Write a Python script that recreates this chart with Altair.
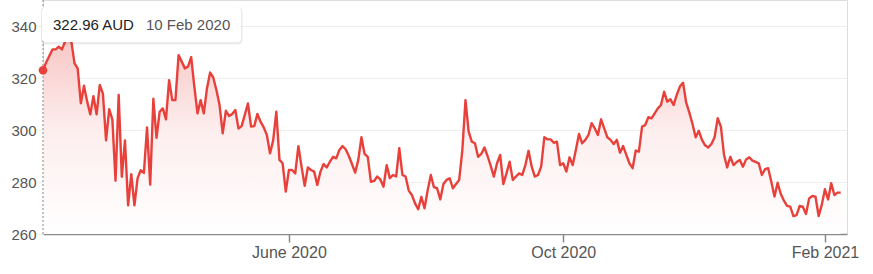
import altair as alt
import pandas as pd

# Daily closing prices (AUD), one per ASX trading day from 10 Feb 2020
prices = [
    322.96, 326.0, 328.5, 331.0, 331.0, 332.0, 331.0, 334.0, 339.0, 334.0,
    325.6, 323.7, 310.3, 317.0, 311.0, 306.0, 313.0, 306.0, 317.3, 314.0,
    296.0, 308.0, 304.0, 280.5, 313.5, 282.0, 296.0, 271.0, 283.0, 271.0,
    281.5, 284.5, 283.5, 301.0, 279.0, 312.0, 297.0, 307.0, 308.3, 304.1,
    319.2, 311.5, 311.5, 328.8, 326.3, 323.7, 324.4, 328.0, 316.7, 306.4,
    311.5, 306.4, 316.0, 322.1, 320.2, 315.4, 309.6, 298.7, 307.4, 305.4,
    306.2, 307.7, 300.6, 301.5, 305.8, 310.2, 301.3, 301.5, 306.2, 303.2,
    301.0, 298.1, 291.0, 296.0, 307.0, 288.5, 287.2, 276.3, 284.6, 284.6,
    283.3, 293.8, 285.9, 278.5, 285.6, 284.6, 284.0, 278.9, 284.0, 286.9,
    285.6, 287.8, 289.7, 289.1, 292.3, 293.8, 292.6, 290.0, 286.9, 283.6,
    288.5, 297.2, 290.8, 289.7, 280.1, 280.4, 282.1, 281.0, 278.2, 286.5,
    281.5, 282.7, 282.1, 293.0, 282.7, 282.1, 276.7, 275.0, 271.8, 269.5,
    274.3, 269.9, 276.7, 282.7, 278.0, 277.6, 273.3, 279.2, 280.8, 281.4,
    277.6, 279.2, 280.8, 292.3, 311.5, 299.4, 295.5, 294.9, 289.7, 290.8,
    293.3, 290.0, 286.2, 282.1, 287.2, 290.4, 279.2, 283.3, 287.8, 280.8,
    282.1, 283.3, 282.7, 286.5, 292.0, 285.9, 282.1, 282.7, 285.9, 297.2,
    296.4, 296.4, 295.1, 295.5, 286.5, 287.2, 284.0, 289.5, 286.5, 292.3,
    298.5, 294.9, 296.2, 298.1, 302.6, 300.6, 298.1, 304.1, 300.6, 297.2,
    296.2, 294.6, 296.2, 291.3, 293.8, 290.4, 287.2, 285.3, 292.1, 291.7,
    301.3, 301.9, 304.9, 304.5, 306.4, 308.3, 309.6, 314.7, 310.9, 311.8,
    309.6, 313.5, 316.7, 318.2, 310.5, 306.7, 302.3, 297.2, 299.7, 296.2,
    294.1, 293.3, 294.6, 297.2, 304.5, 301.3, 290.4, 285.6, 289.7, 286.5,
    287.7, 288.5, 285.9, 288.7, 289.5, 288.2, 287.7, 287.2, 282.7, 284.9,
    285.3, 280.1, 274.4, 279.7, 275.4, 272.8, 270.8, 270.5, 266.9, 267.3,
    270.8, 270.5, 267.7, 273.7, 274.6, 274.4, 266.9, 271.2, 277.2, 273.3,
    279.5, 275.0, 275.9, 275.9,
]
currency = "AUD"
first_date_label = "10 Feb 2020"

# x axis: trading-day index of month starts
tick_idx = [78, 165, 248]
tick_labels = ["June 2020", "Oct 2020", "Feb 2021"]
y_ticks = [260, 280, 300, 320, 340]

RED = "#e8403a"
FONT = "Arial"

df = pd.DataFrame({"i": list(range(len(prices))), "price": prices})
first = df.iloc[[0]].copy()
first["label"] = f"{prices[0]:.2f} {currency}"
first["date"] = first_date_label

label_expr = "".join(
    f"datum.value == {v} ? '{l}' : " for v, l in zip(tick_idx, tick_labels)
) + "''"

x_scale = alt.Scale(domain=[0, 255], nice=False, zero=False)
y_scale = alt.Scale(domain=[260, 350], nice=False, zero=False)

x_axis = alt.Axis(
    values=tick_idx, labelExpr=label_expr, title=None, grid=False,
    domainColor="#8a8a8a", domainWidth=1.5, tickColor="#8a8a8a", tickWidth=1.5,
    tickSize=8, labelFontSize=16, labelColor="#555555", labelFont=FONT,
    labelPadding=2, labelOverlap=False,
)
y_axis = alt.Axis(
    values=y_ticks, title=None, domain=False, ticks=True, tickSize=5,
    tickColor="#eeeeee", gridColor="#eeeeee", gridWidth=1.2,
    labelFontSize=15, labelColor="#555555", labelFont=FONT, labelPadding=2,
)

X = alt.X("i:Q", scale=x_scale, axis=x_axis)
Y = alt.Y("price:Q", scale=y_scale, axis=y_axis)

area = alt.Chart(df).mark_area(
    color=alt.Gradient(
        gradient="linear",
        stops=[
            alt.GradientStop(color="#f7c3c1", offset=0),
            alt.GradientStop(color="#fdeeee", offset=0.5),
            alt.GradientStop(color="#ffffff", offset=1),
        ],
        x1=1, x2=1, y1=0, y2=1,
    )
).encode(x=X, y=Y, y2=alt.datum(260))

line = alt.Chart(df).mark_line(color=RED, strokeWidth=2.4, strokeJoin="round").encode(
    x=X, y=Y
)

rule = alt.Chart(first).mark_rule(color="#888888", strokeDash=[2, 2], strokeWidth=1).encode(
    x=X
)

dot = alt.Chart(first).mark_circle(color=RED, size=75, opacity=1).encode(x=X, y=Y)

shadow = alt.Chart(first).mark_rect(color="#000000", opacity=0.08, cornerRadius=4).encode(
    x=alt.value(-2), x2=alt.value(199.5), y=alt.value(7), y2=alt.value(44.5)
)
box = alt.Chart(first).mark_rect(color="#ffffff", cornerRadius=3).encode(
    x=alt.value(-1), x2=alt.value(198), y=alt.value(7), y2=alt.value(42)
)
price_text = alt.Chart(first).mark_text(
    align="left", baseline="alphabetic", fontSize=15, font=FONT, color="#222222"
).encode(text="label:N", x=alt.value(10), y=alt.value(29.5))
date_text = alt.Chart(first).mark_text(
    align="left", baseline="alphabetic", fontSize=15, font=FONT, color="#555555"
).encode(text="date:N", x=alt.value(103), y=alt.value(29.5))

chart = alt.layer(
    area, line, rule, dot, shadow, box, price_text, date_text
).properties(
    width=804, height=234,
    padding={"left": 43, "top": 0, "right": 26, "bottom": 40},
    autosize=alt.AutoSizeParams(type="none"),
).configure_view(strokeWidth=0, stroke="transparent").configure(background="#ffffff")

chart.save("out.html", embed_options={"renderer": "svg", "actions": False})
